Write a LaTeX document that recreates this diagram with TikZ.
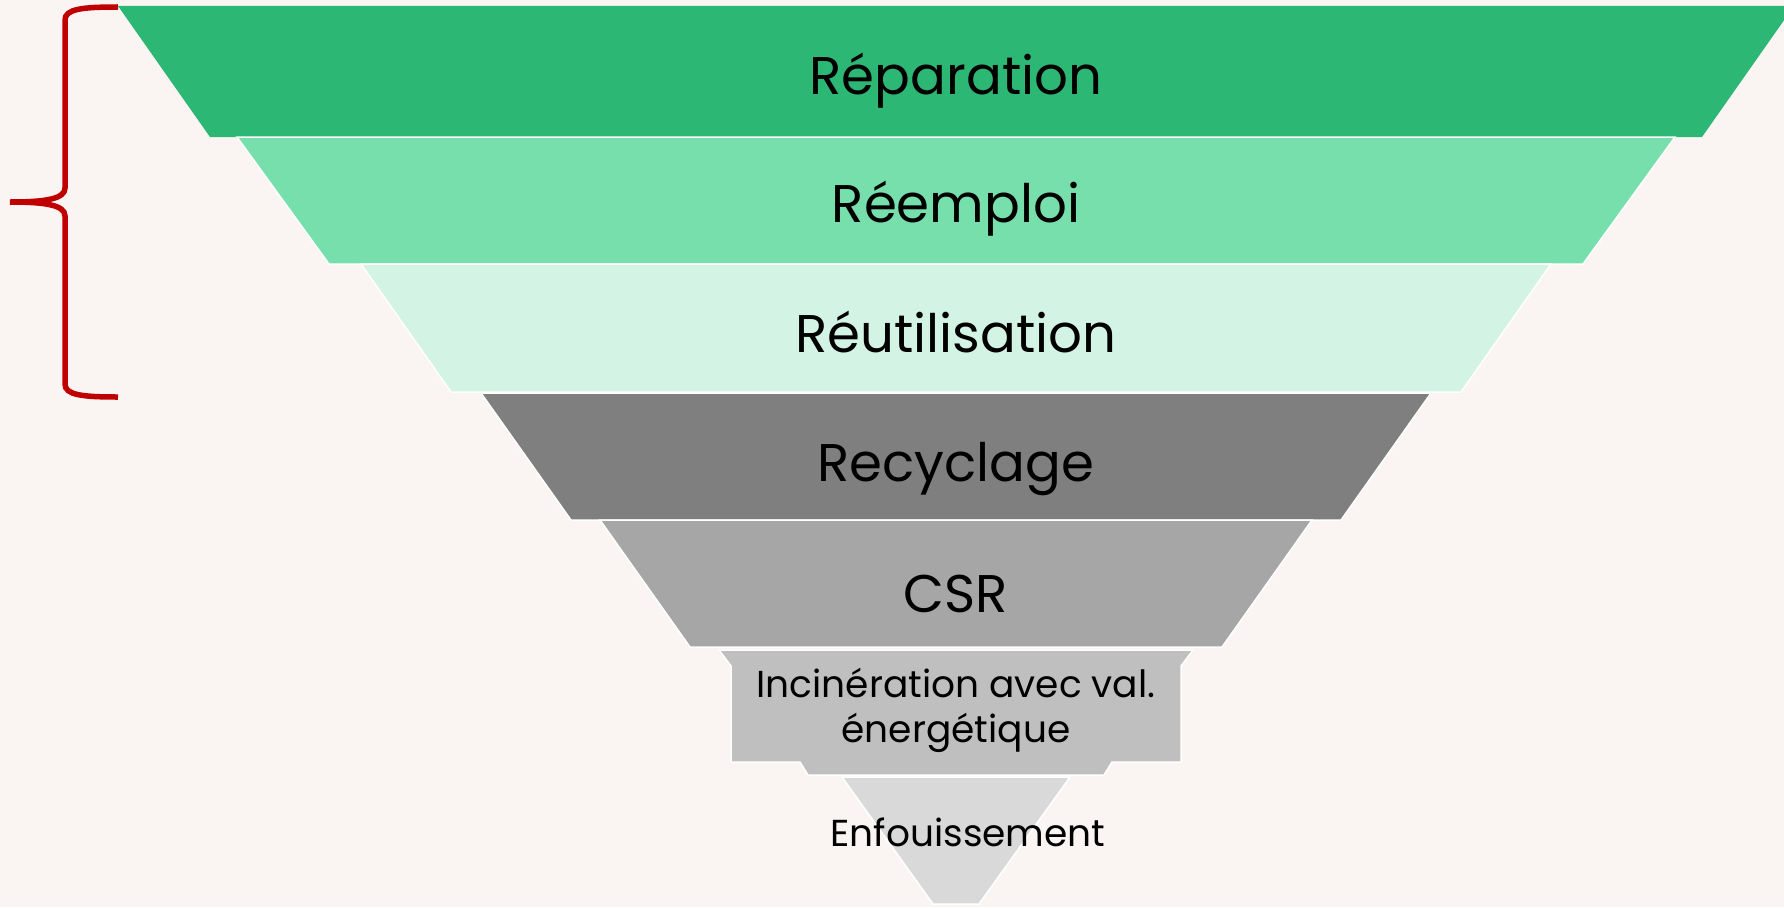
\documentclass[tikz,border=0pt]{standalone}
\usepackage{fontspec}
\setmainfont{Poppins}
\definecolor{fond}{HTML}{FAF5F2}
\definecolor{vert}{HTML}{2DB775}
\definecolor{vertclair}{HTML}{77DFAC}
\definecolor{vertpale}{HTML}{D3F4E4}
\definecolor{gris1}{HTML}{7F7F7F}
\definecolor{gris2}{HTML}{A6A6A6}
\definecolor{gris3}{HTML}{BFBFBF}
\definecolor{gris4}{HTML}{D9D9D9}
\definecolor{rouge}{HTML}{C00000}
\begin{document}
\begin{tikzpicture}[x=1pt,y=-1pt,
  band/.style={draw=white, line width=1.5pt},
  biglabel/.style={font=\fontsize{53}{64}\selectfont, anchor=base},
  smalllabel/.style={font=\fontsize{37.5}{45}\selectfont, align=center}]
\clip (0,0) rectangle (1784,907);
\fill [fond] (0,0) rectangle (1784,907);
% the funnel, one band per level
\fill [vert] (118,6) -- (1794,6) -- (1702,137) -- (210,137) -- cycle;
\draw [band, fill=vertclair] (237,137) -- (1675,137) -- (1583,264) -- (329,264) -- cycle;
\draw [band, fill=vertpale] (361,264) -- (1551,264) -- (1461,392) -- (451,392) -- cycle;
\draw [band, fill=gris1] (481,393) -- (1431,393) -- (1341,520) -- (571,520) -- cycle;
\draw [band, fill=gris2] (600,520) -- (1312,520) -- (1222,647) -- (690,647) -- cycle;
\draw [band, fill=gris3] (719,650) -- (1193,650) -- (1181,666) -- (1181,762) -- (1112,762)
  -- (1104,775) -- (808,775) -- (800,762) -- (731,762) -- (731,666) -- cycle;
\draw [band, fill=gris4] (842,777) -- (1070,777) -- (979,904) -- (933,904) -- cycle;
\node [biglabel] (repar) at (956,94) {Réparation};
\node [biglabel] (reempl) at (956,222) {Réemploi};
\node [biglabel] (reutil) at (956,352) {Réutilisation};
\node [biglabel] (recycl) at (956,481) {Recyclage};
\node [biglabel] (csr) at (956,612) {CSR};
\node [smalllabel] (incin) at (956,710) {Incinération avec val.\\énergétique};
\node [smalllabel, anchor=base] (enfou) at (968,846) {Enfouissement};
% brace over the first three levels
\draw [rouge, line width=5.5pt]
  (118,7) .. controls (82,7) and (65,9) .. (65,20) -- (65,188)
  .. controls (65,199) and (45,202) .. (10,202)
  .. controls (45,202) and (65,205) .. (65,216) -- (65,384)
  .. controls (65,395) and (82,397) .. (118,397);
\end{tikzpicture}
\end{document}
